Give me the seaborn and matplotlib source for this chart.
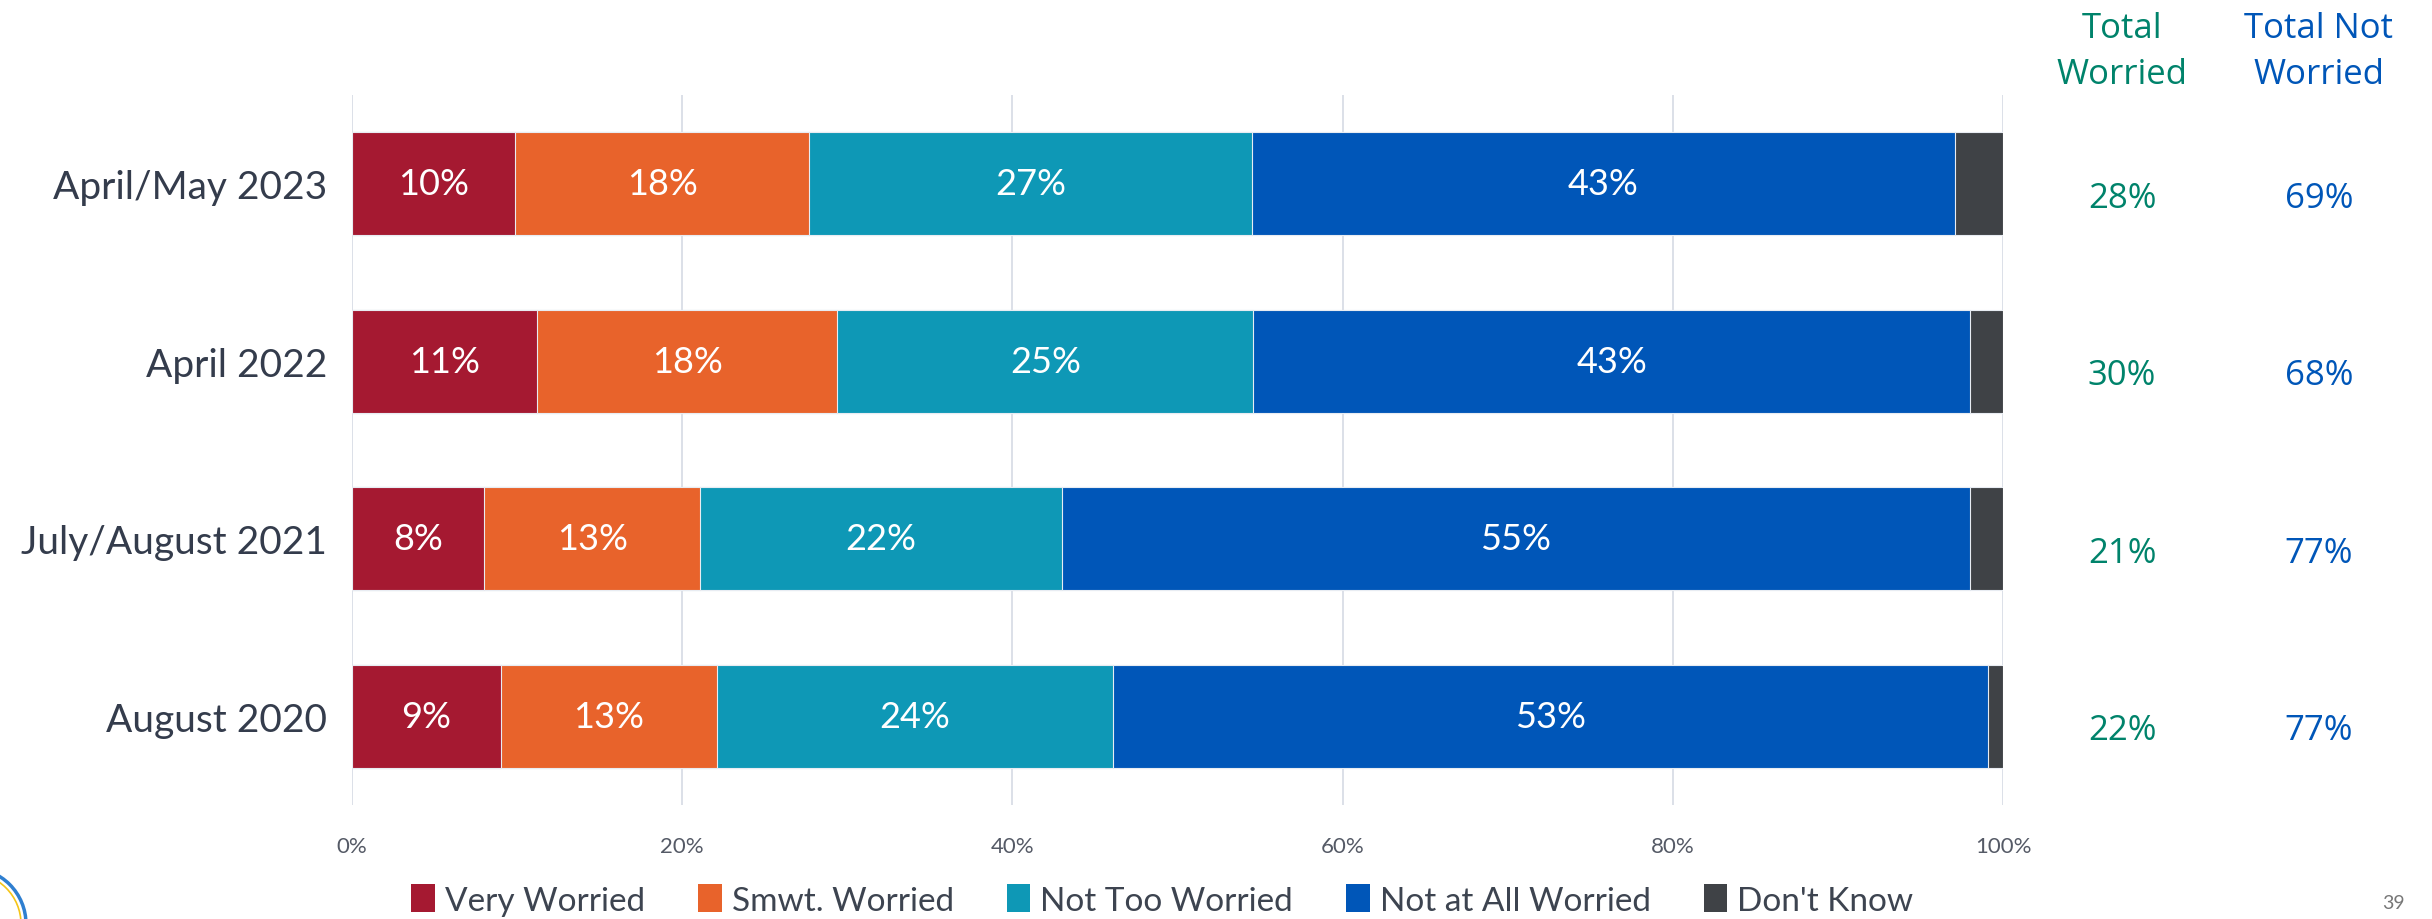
import numpy as np
import pandas as pd
import matplotlib.pyplot as plt
import seaborn as sns
from matplotlib.patches import Patch, Circle

# data (bar widths in percent)
periods = ['April/May 2023', 'April 2022', 'July/August 2021', 'August 2020']
segments = ['Very Worried', 'Smwt. Worried', 'Not Too Worried', 'Not at All Worried', "Don't Know"]
very_worried = [9.9, 11.2, 8.0, 9.0]
smwt_worried = [17.8, 18.2, 13.1, 13.1]
not_too_worried = [26.8, 25.2, 21.9, 24.0]
not_at_all_worried = [42.6, 43.4, 55.0, 53.0]
dont_know = [2.9, 2.0, 2.0, 0.9]
bar_labels = [
    ['10%', '11%', '8%', '9%'],
    ['18%', '18%', '13%', '13%'],
    ['27%', '25%', '22%', '24%'],
    ['43%', '43%', '55%', '53%'],
]
total_worried = ['28%', '30%', '21%', '22%']
total_not_worried = ['69%', '68%', '77%', '77%']

colors = ['#A51931', '#E8632B', '#0E98B6', '#0056B8', '#3F4246']
green = '#00836B'
blue = '#0056B8'
text_dark = '#343c4c'

sns.set_theme(style='white')
plt.rcParams['font.family'] = ['Lato', 'DejaVu Sans']

df = pd.DataFrame({
    'period': periods,
    segments[0]: very_worried,
    segments[1]: smwt_worried,
    segments[2]: not_too_worried,
    segments[3]: not_at_all_worried,
    segments[4]: dont_know,
})
cum = df[segments].cumsum(axis=1)

fig = plt.figure(figsize=(24.32, 9.2), dpi=100)
ax = fig.add_axes([352 / 2432, 1 - 806 / 920, (2003 - 352) / 2432, (806 - 96) / 920])

# stacked bars = overlapping cumulative bars, drawn from the longest down
for i in reversed(range(len(segments))):
    sns.barplot(x=cum[segments[i]], y=df['period'], color=colors[i], orient='h',
                width=0.58, edgecolor='#e8ecf2', linewidth=0.8, saturation=1, ax=ax, zorder=3)

# value labels inside the bars
for i in range(4):
    left = cum[segments[i]] - df[segments[i]]
    for j in range(len(periods)):
        ax.text(left[j] + df[segments[i]][j] / 2, j, bar_labels[i][j], color='white',
                ha='center', va='center', fontsize=26, zorder=4)

ax.set_xlim(0, 100)
ax.set_ylim(3.5, -0.5)
ax.set_xticks(np.arange(0, 101, 20))
ax.set_xticklabels([f'{t}%' for t in range(0, 101, 20)], fontsize=16, color='#555a66')
ax.tick_params(axis='x', length=0, pad=22)
ax.tick_params(axis='y', length=0, pad=18)
ax.set_yticklabels(periods, fontsize=28, color=text_dark)
ax.set_xlabel('')
ax.set_ylabel('')
ax.grid(axis='x', color='#d9dde6', linewidth=1.3, zorder=0)
for s in ax.spines.values():
    s.set_visible(False)

# total columns on the right
x_w = 2122 / 2432
x_nw = 2319 / 2432
fig.text(x_w, 1 - 52 / 920, 'Total\nWorried', color=green, ha='center', va='center',
         fontsize=25, fontweight=500, linespacing=1.45, family=['Open Sans', 'DejaVu Sans'])
fig.text(x_nw, 1 - 52 / 920, 'Total Not\nWorried', color=blue, ha='center', va='center',
         fontsize=25, fontweight=500, linespacing=1.45, family=['Open Sans', 'DejaVu Sans'])
for j in range(len(periods)):
    y_fig = ax.transData.transform((0, j))
    y_fig = fig.transFigure.inverted().transform(y_fig)[1] - 14 / 920
    fig.text(x_w, y_fig, total_worried[j], color=green, ha='center', va='center',
             fontsize=25, fontweight=500, family=['Open Sans', 'DejaVu Sans'])
    fig.text(x_nw, y_fig, total_not_worried[j], color=blue, ha='center', va='center',
             fontsize=25, fontweight=500, family=['Open Sans', 'DejaVu Sans'])

# legend
handles = [Patch(facecolor=c, edgecolor='none') for c in colors]
fig.legend(handles, segments, loc='center', bbox_to_anchor=(0.478, 1 - 901 / 920), ncol=5,
           frameon=False, handlelength=0.7, handleheight=0.9, handletextpad=0.3,
           columnspacing=1.6, labelcolor='#3d4450', prop={'size': 24})

# page number and logo fragment
fig.text(2393 / 2432, 1 - 904 / 920, '39', color='#777777', fontsize=14, ha='center', va='center')
fig.patches.append(Circle((-0.3, -0.05), 0.56, transform=fig.dpi_scale_trans,
                          fill=False, edgecolor='#2f7fd0', linewidth=2.5))
fig.patches.append(Circle((-0.3, -0.05), 0.51, transform=fig.dpi_scale_trans,
                          fill=False, edgecolor='#f5c518', linewidth=1.2))

fig.savefig('out.png', dpi=100, facecolor='white')
